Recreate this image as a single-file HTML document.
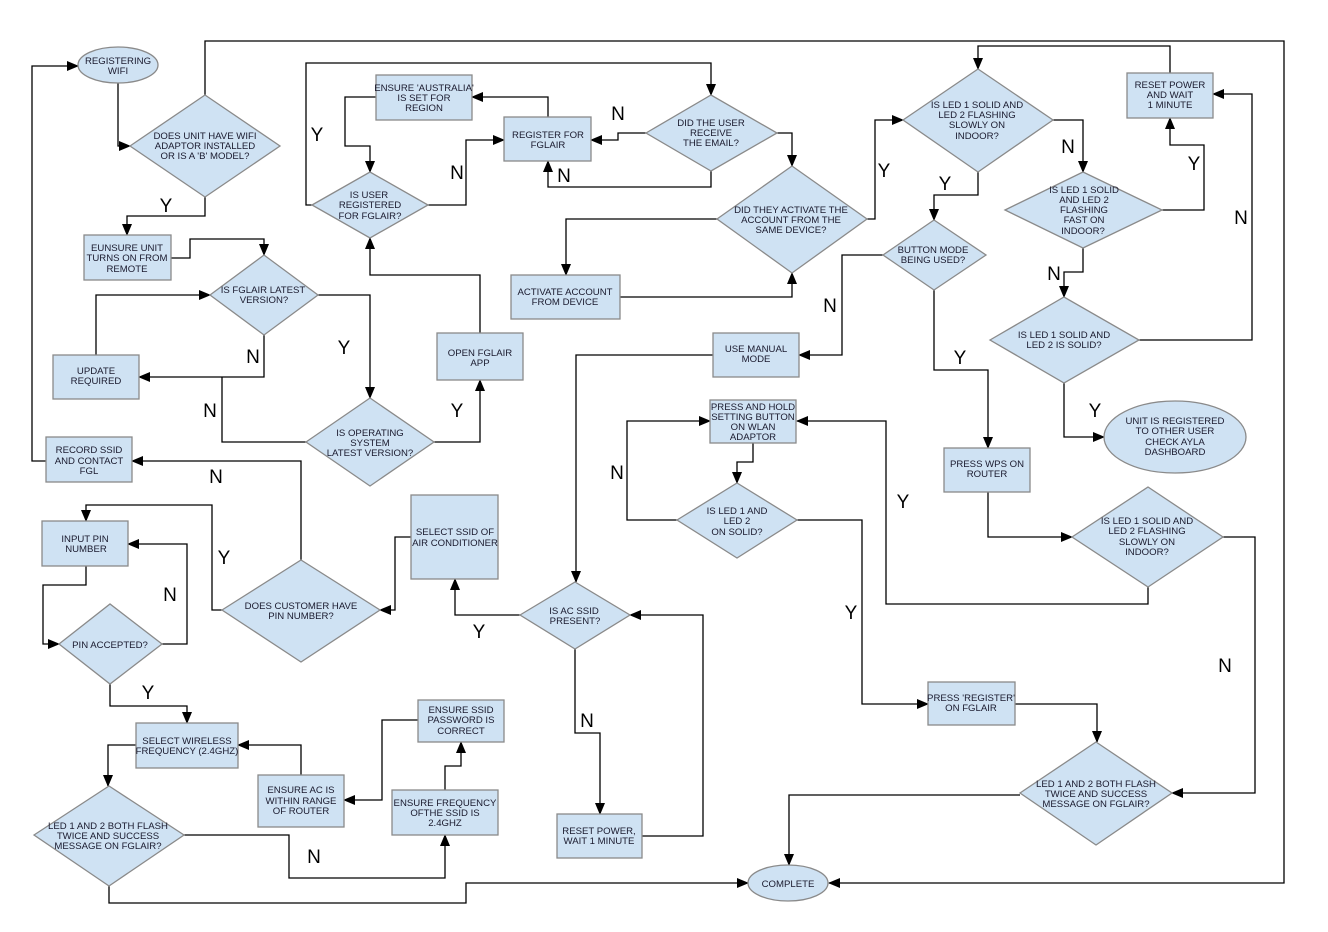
<!DOCTYPE html>
<html><head><meta charset="utf-8"><style>
html,body{margin:0;padding:0;background:#fff;}
svg{display:block;}
.s{fill:#cfe2f3;stroke:#8a8a8a;stroke-width:1.3;}
.c{fill:none;stroke:#000;stroke-width:1.3;}
.t{font-family:"Liberation Sans",Arial,sans-serif;font-size:9.6px;fill:#1a1a2e;text-anchor:middle;}
.l{font-family:"Liberation Sans",Arial,sans-serif;font-size:19px;fill:#000;text-anchor:middle;}
</style></head><body>
<svg width="1328" height="932" viewBox="0 0 1328 932" xmlns="http://www.w3.org/2000/svg">
<defs><marker id="a" markerWidth="12" markerHeight="10" refX="11" refY="5" orient="auto" markerUnits="userSpaceOnUse"><path d="M0,0 L12,5 L0,10 z" fill="#000"/></marker></defs>
<rect width="1328" height="932" fill="#fff"/>

<!-- connectors -->
<g class="c" marker-end="url(#a)">
<path d="M118,83 V146 H130"/>
<path d="M205,95 V41 H1284 V883 H829"/>
<path d="M205,197 V216 H127 V235"/>
<path d="M171,258 H190 V239 H264 V255"/>
<path d="M318,295 H370 V398"/>
<path d="M264,335 V377 H139"/>
<path d="M96,355 V295 H210"/>
<path d="M434,442 H480 V380"/>
<path d="M480,333 V275 H370 V238"/>
<path d="M312,205 H306 V63 H711 V95"/>
<path d="M428,205 H466 V140 H504"/>
<path d="M376,97 H345 V146 H370 V172"/>
<path d="M548,117 V97 H472"/>
<path d="M646,133 H618 V140 H591"/>
<path d="M711,171 V187 H548 V161"/>
<path d="M777,133 H792 V166"/>
<path d="M717,219 H566 V275"/>
<path d="M620,297 H792 V273"/>
<path d="M867,219 H875 V120 H903"/>
<path d="M978,172 V195 H934 V220"/>
<path d="M1053,120 H1083 V172"/>
<path d="M1162,210 H1204 V145 H1170 V118"/>
<path d="M1170,73 V46 H978 V69"/>
<path d="M1083,248 V272 H1064 V297"/>
<path d="M1139,340 H1252 V94 H1213"/>
<path d="M1064,383 V437 H1104"/>
<path d="M883,255 H842 V355 H799"/>
<path d="M934,290 V370 H988 V448"/>
<path d="M713,355 H576 V582"/>
<path d="M988,492 V537 H1072"/>
<path d="M1148,587 V604 H886 V421 H797"/>
<path d="M1223,537 H1255 V793 H1172"/>
<path d="M753,443 V462 H737 V483"/>
<path d="M677,520 H627 V421 H710"/>
<path d="M797,520 H862 V704 H928"/>
<path d="M1015,704 H1097 V742"/>
<path d="M1020,795 H789 V865"/>
<path d="M642,836 H703 V615 H630"/>
<path d="M575,649 V733 H600 V814"/>
<path d="M520,615 H455 V579"/>
<path d="M411,537 H395 V610 H380"/>
<path d="M301,560 V461 H132"/>
<path d="M222,610 H212 V505 H86 V521"/>
<path d="M46,461 H32 V66 H78"/>
<path d="M86,566 V585 H43 V644 H59"/>
<path d="M162,644 H187 V544 H128"/>
<path d="M110,684 V706 H187 V723"/>
<path d="M136,745 H108 V786"/>
<path d="M301,775 V745 H238"/>
<path d="M418,720 H382 V800 H344"/>
<path d="M445,790 V766 H461 V742"/>
<path d="M184,835 H289 V878 H445 V835"/>
<path d="M109,886 V903 H466 V883 H748"/>
</g>
<path class="c" d="M306,442 H222 V377"/>

<!-- shapes -->
<ellipse class="s" cx="118" cy="65" rx="40" ry="18"/>
<polygon class="s" points="130,146 205,95 280,146 205,197"/>
<rect class="s" x="84" y="235" width="87" height="45"/>
<polygon class="s" points="210,295 264,255 318,295 264,335"/>
<rect class="s" x="53" y="355" width="86" height="44"/>
<polygon class="s" points="306,442 370,398 434,442 370,486"/>
<rect class="s" x="437" y="333" width="86" height="47"/>
<polygon class="s" points="312,205 370,172 428,205 370,238"/>
<rect class="s" x="376" y="75" width="96" height="45"/>
<rect class="s" x="504" y="117" width="87" height="44"/>
<polygon class="s" points="646,133 711,95 777,133 711,171"/>
<polygon class="s" points="717,219 792,166 867,219 792,273"/>
<rect class="s" x="511" y="275" width="109" height="44"/>
<rect class="s" x="46" y="437" width="86" height="45"/>
<rect class="s" x="42" y="521" width="86" height="45"/>
<polygon class="s" points="59,644 110,604 162,644 110,684"/>
<polygon class="s" points="222,610 301,560 380,610 301,662"/>
<rect class="s" x="411" y="495" width="87" height="84"/>
<rect class="s" x="136" y="723" width="102" height="45"/>
<rect class="s" x="258" y="775" width="86" height="52"/>
<rect class="s" x="418" y="700" width="86" height="42"/>
<rect class="s" x="392" y="790" width="106" height="45"/>
<polygon class="s" points="34,835 109,786 184,835 109,886"/>
<polygon class="s" points="520,615 575,582 630,615 575,649"/>
<rect class="s" x="557" y="814" width="85" height="44"/>
<rect class="s" x="713" y="333" width="86" height="44"/>
<rect class="s" x="710" y="400" width="86" height="43"/>
<polygon class="s" points="677,520 737,483 797,520 737,558"/>
<rect class="s" x="928" y="682" width="87" height="43"/>
<polygon class="s" points="1020,793 1096,742 1172,793 1096,845"/>
<ellipse class="s" cx="788" cy="883" rx="40" ry="18"/>
<polygon class="s" points="903,120 978,69 1053,120 978,172"/>
<rect class="s" x="1127" y="73" width="86" height="45"/>
<polygon class="s" points="1005,210 1083,172 1162,210 1083,248"/>
<polygon class="s" points="883,255 934,220 986,255 934,290"/>
<polygon class="s" points="990,340 1064,297 1139,340 1064,383"/>
<ellipse class="s" cx="1175" cy="437" rx="71" ry="36"/>
<rect class="s" x="944" y="448" width="86" height="44"/>
<polygon class="s" points="1072,537 1148,487 1223,537 1148,587"/>

<!-- node text -->
<g class="t">
<text x="118" y="64">REGISTERING<tspan x="118" dy="10">WIFI</tspan></text>
<text x="205" y="139">DOES UNIT HAVE WIFI<tspan x="205" dy="10">ADAPTOR INSTALLED</tspan><tspan x="205" dy="10">OR IS A 'B' MODEL?</tspan></text>
<text x="127" y="251">EUNSURE UNIT<tspan x="127" dy="10">TURNS ON FROM</tspan><tspan x="127" dy="11">REMOTE</tspan></text>
<text x="263" y="293">IS FGLAIR LATEST<tspan x="264" dy="10">VERSION?</tspan></text>
<text x="96" y="374">UPDATE<tspan x="96" dy="10">REQUIRED</tspan></text>
<text x="370" y="436">IS OPERATING<tspan x="370" dy="10">SYSTEM</tspan><tspan x="370" dy="10">LATEST VERSION?</tspan></text>
<text x="480" y="356">OPEN FGLAIR<tspan x="480" dy="10">APP</tspan></text>
<text x="369" y="198">IS USER<tspan x="370" dy="10">REGISTERED</tspan><tspan x="370" dy="11">FOR FGLAIR?</tspan></text>
<text x="424" y="91">ENSURE 'AUSTRALIA'<tspan x="424" dy="10">IS SET FOR</tspan><tspan x="424" dy="10">REGION</tspan></text>
<text x="548" y="138">REGISTER FOR<tspan x="548" dy="10">FGLAIR</tspan></text>
<text x="711" y="126">DID THE USER<tspan x="711" dy="10">RECEIVE</tspan><tspan x="711" dy="10">THE EMAIL?</tspan></text>
<text x="791" y="213">DID THEY ACTIVATE THE<tspan x="791" dy="10">ACCOUNT FROM THE</tspan><tspan x="791" dy="10">SAME DEVICE?</tspan></text>
<text x="565" y="295">ACTIVATE ACCOUNT<tspan x="565" dy="10">FROM DEVICE</tspan></text>
<text x="89" y="453">RECORD SSID<tspan x="89" dy="11">AND CONTACT</tspan><tspan x="89" dy="10">FGL</tspan></text>
<text x="85" y="542">INPUT PIN<tspan x="86" dy="10">NUMBER</tspan></text>
<text x="110" y="648">PIN ACCEPTED?</text>
<text x="301" y="609">DOES CUSTOMER HAVE<tspan x="301" dy="10">PIN NUMBER?</tspan></text>
<text x="455" y="535">SELECT SSID OF<tspan x="455" dy="11">AIR CONDITIONER</tspan></text>
<text x="187" y="744">SELECT WIRELESS<tspan x="187" dy="10">FREQUENCY (2.4GHZ)</tspan></text>
<text x="301" y="793">ENSURE AC IS<tspan x="301" dy="11">WITHIN RANGE</tspan><tspan x="301" dy="10">OF ROUTER</tspan></text>
<text x="461" y="713">ENSURE SSID<tspan x="461" dy="10">PASSWORD IS</tspan><tspan x="461" dy="11">CORRECT</tspan></text>
<text x="445" y="806">ENSURE FREQUENCY<tspan x="445" dy="10">OFTHE SSID IS</tspan><tspan x="445" dy="10">2.4GHZ</tspan></text>
<text x="108" y="829">LED 1 AND 2 BOTH FLASH<tspan x="108" dy="10">TWICE AND SUCCESS</tspan><tspan x="108" dy="10">MESSAGE ON FGLAIR?</tspan></text>
<text x="574" y="614">IS AC SSID<tspan x="575" dy="10">PRESENT?</tspan></text>
<text x="599" y="834">RESET POWER,<tspan x="599" dy="10">WAIT 1 MINUTE</tspan></text>
<text x="756" y="352">USE MANUAL<tspan x="756" dy="10">MODE</tspan></text>
<text x="753" y="410">PRESS AND HOLD<tspan x="753" dy="10">SETTING BUTTON</tspan><tspan x="753" dy="10">ON WLAN</tspan><tspan x="753" dy="10">ADAPTOR</tspan></text>
<text x="737" y="514">IS LED 1 AND<tspan x="737" dy="10">LED  2</tspan><tspan x="737" dy="11">ON SOLID?</tspan></text>
<text x="971" y="701">PRESS 'REGISTER'<tspan x="971" dy="10">ON FGLAIR</tspan></text>
<text x="1096" y="787">LED 1 AND 2 BOTH FLASH<tspan x="1096" dy="10">TWICE AND SUCCESS</tspan><tspan x="1096" dy="10">MESSAGE ON FGLAIR?</tspan></text>
<text x="788" y="887">COMPLETE</text>
<text x="977" y="108">IS LED 1 SOLID AND<tspan x="977" dy="10">LED 2 FLASHING</tspan><tspan x="977" dy="10">SLOWLY ON</tspan><tspan x="977" dy="11">INDOOR?</tspan></text>
<text x="1170" y="88">RESET POWER<tspan x="1170" dy="10">AND WAIT</tspan><tspan x="1170" dy="10">1 MINUTE</tspan></text>
<text x="1084" y="193">IS LED 1 SOLID<tspan x="1084" dy="10">AND LED 2</tspan><tspan x="1084" dy="10">FLASHING</tspan><tspan x="1084" dy="10">FAST ON</tspan><tspan x="1083" dy="11">INDOOR?</tspan></text>
<text x="933" y="253">BUTTON MODE<tspan x="933" dy="10">BEING USED?</tspan></text>
<text x="1064" y="338">IS LED 1 SOLID AND<tspan x="1064" dy="10">LED 2 IS SOLID?</tspan></text>
<text x="1175" y="424">UNIT IS REGISTERED<tspan x="1175" dy="10">TO OTHER USER</tspan><tspan x="1175" dy="11">CHECK AYLA</tspan><tspan x="1175" dy="10">DASHBOARD</tspan></text>
<text x="987" y="467">PRESS WPS ON<tspan x="987" dy="10">ROUTER</tspan></text>
<text x="1147" y="524">IS LED 1 SOLID AND<tspan x="1147" dy="10">LED 2 FLASHING</tspan><tspan x="1147" dy="11">SLOWLY ON</tspan><tspan x="1147" dy="10">INDOOR?</tspan></text>
</g>

<!-- Y/N labels -->
<g class="l">
<text x="166" y="212">Y</text>
<text x="344" y="354">Y</text>
<text x="253" y="363">N</text>
<text x="210" y="417">N</text>
<text x="457" y="417">Y</text>
<text x="317" y="141">Y</text>
<text x="457" y="179">N</text>
<text x="618" y="120">N</text>
<text x="564" y="182">N</text>
<text x="884" y="177">Y</text>
<text x="945" y="190">Y</text>
<text x="1068" y="153">N</text>
<text x="1194" y="170">Y</text>
<text x="1054" y="280">N</text>
<text x="1241" y="224">N</text>
<text x="1095" y="417">Y</text>
<text x="830" y="312">N</text>
<text x="960" y="364">Y</text>
<text x="903" y="508">Y</text>
<text x="1225" y="672">N</text>
<text x="617" y="479">N</text>
<text x="851" y="619">Y</text>
<text x="587" y="727">N</text>
<text x="479" y="638">Y</text>
<text x="216" y="483">N</text>
<text x="224" y="564">Y</text>
<text x="170" y="601">N</text>
<text x="148" y="699">Y</text>
<text x="314" y="863">N</text>
</g>
</svg>
</body></html>
